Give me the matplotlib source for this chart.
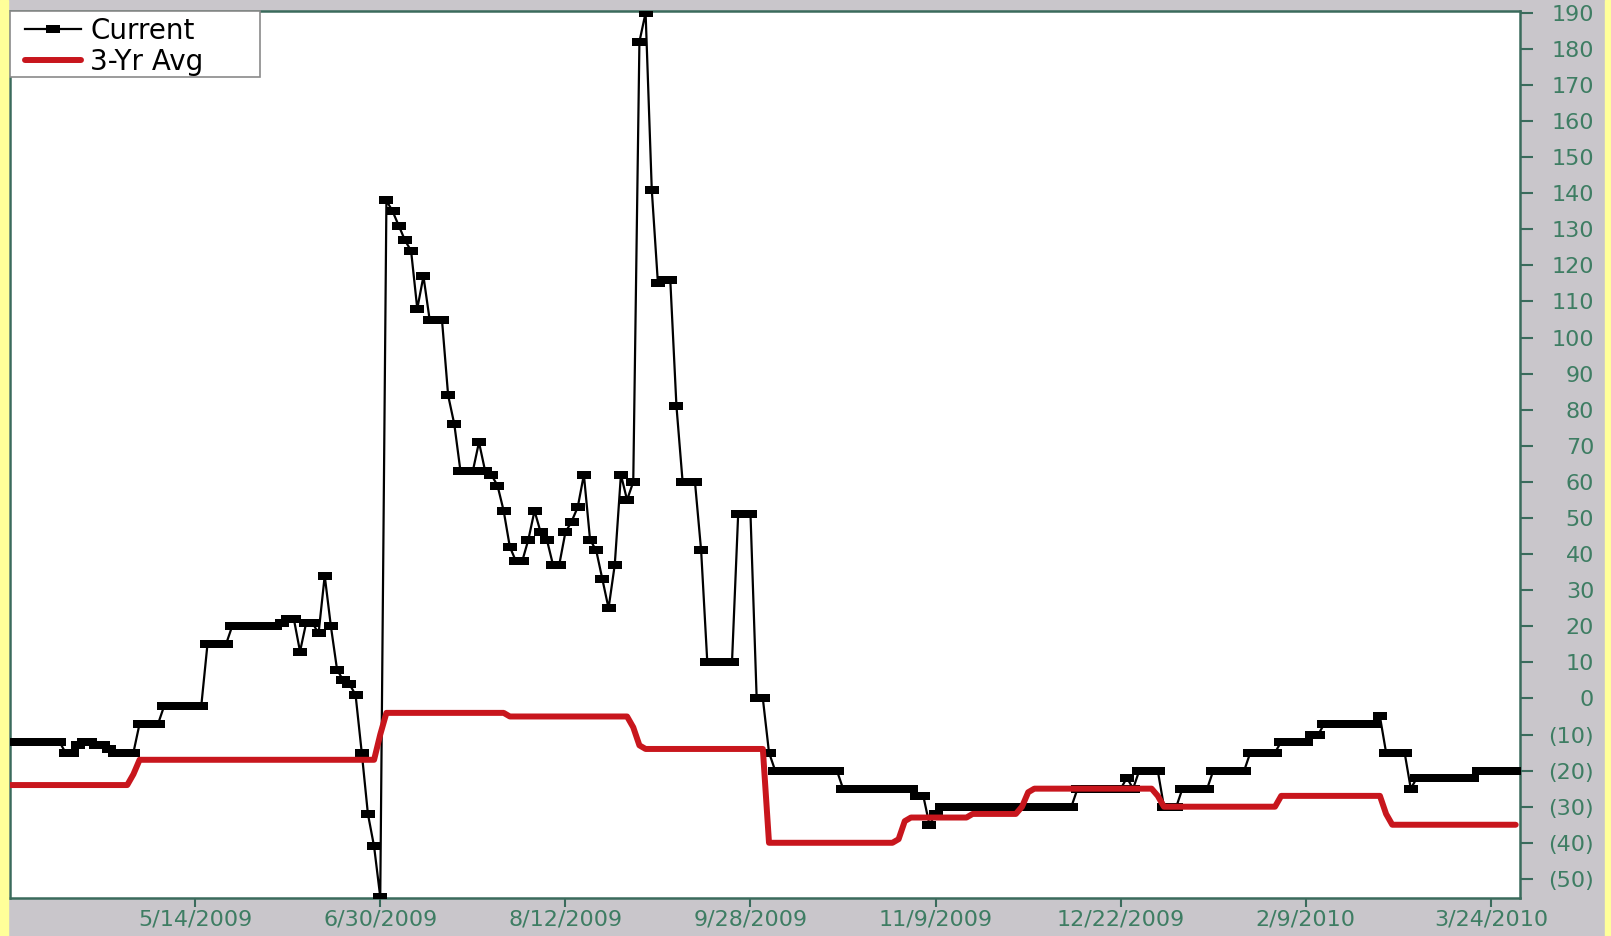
import matplotlib; matplotlib.use("Agg")
import matplotlib.pyplot as plt
from matplotlib.patches import Rectangle
import numpy as np

plt.rcParams.update({"font.family": "DejaVu Sans"})

# daily readings (one value per trading day)
current = [
    -12, -12, -12, -12, -12, -12, -12, -12, -12, -15,
    -15, -13, -12, -12, -13, -13, -14, -15, -15, -15,
    -15, -7, -7, -7, -7, -2, -2, -2, -2, -2,
    -2, -2, 15, 15, 15, 15, 20, 20, 20, 20,
    20, 20, 20, 20, 21, 22, 22, 13, 21, 21,
    18, 34, 20, 8, 5, 4, 1, -15, -32, -41,
    -55, 138, 135, 131, 127, 124, 108, 117, 105, 105,
    105, 84, 76, 63, 63, 63, 71, 63, 62, 59,
    52, 42, 38, 38, 44, 52, 46, 44, 37, 37,
    46, 49, 53, 62, 44, 41, 33, 25, 37, 62,
    55, 60, 182, 190, 141, 115, 116, 116, 81, 60,
    60, 60, 41, 10, 10, 10, 10, 10, 51, 51,
    51, 0, 0, -15, -20, -20, -20, -20, -20, -20,
    -20, -20, -20, -20, -20, -25, -25, -25, -25, -25,
    -25, -25, -25, -25, -25, -25, -25, -27, -27, -35,
    -32, -30, -30, -30, -30, -30, -30, -30, -30, -30,
    -30, -30, -30, -30, -30, -30, -30, -30, -30, -30,
    -30, -30, -30, -25, -25, -25, -25, -25, -25, -25,
    -25, -22, -25, -20, -20, -20, -20, -30, -30, -30,
    -25, -25, -25, -25, -25, -20, -20, -20, -20, -20,
    -20, -15, -15, -15, -15, -15, -12, -12, -12, -12,
    -12, -10, -10, -7, -7, -7, -7, -7, -7, -7,
    -7, -7, -5, -15, -15, -15, -15, -25, -22, -22,
    -22, -22, -22, -22, -22, -22, -22, -22, -20, -20,
    -20, -20, -20, -20, -20,
]
avg3 = [
    -24, -24, -24, -24, -24, -24, -24, -24, -24, -24,
    -24, -24, -24, -24, -24, -24, -24, -24, -24, -24,
    -21, -17, -17, -17, -17, -17, -17, -17, -17, -17,
    -17, -17, -17, -17, -17, -17, -17, -17, -17, -17,
    -17, -17, -17, -17, -17, -17, -17, -17, -17, -17,
    -17, -17, -17, -17, -17, -17, -17, -17, -17, -17,
    -10, -4, -4, -4, -4, -4, -4, -4, -4, -4,
    -4, -4, -4, -4, -4, -4, -4, -4, -4, -4,
    -4, -5, -5, -5, -5, -5, -5, -5, -5, -5,
    -5, -5, -5, -5, -5, -5, -5, -5, -5, -5,
    -5, -8, -13, -14, -14, -14, -14, -14, -14, -14,
    -14, -14, -14, -14, -14, -14, -14, -14, -14, -14,
    -14, -14, -14, -40, -40, -40, -40, -40, -40, -40,
    -40, -40, -40, -40, -40, -40, -40, -40, -40, -40,
    -40, -40, -40, -40, -39, -34, -33, -33, -33, -33,
    -33, -33, -33, -33, -33, -33, -32, -32, -32, -32,
    -32, -32, -32, -32, -30, -26, -25, -25, -25, -25,
    -25, -25, -25, -25, -25, -25, -25, -25, -25, -25,
    -25, -25, -25, -25, -25, -25, -27, -30, -30, -30,
    -30, -30, -30, -30, -30, -30, -30, -30, -30, -30,
    -30, -30, -30, -30, -30, -30, -27, -27, -27, -27,
    -27, -27, -27, -27, -27, -27, -27, -27, -27, -27,
    -27, -27, -27, -32, -35, -35, -35, -35, -35, -35,
    -35, -35, -35, -35, -35, -35, -35, -35, -35, -35,
    -35, -35, -35, -35, -35,
]
tick_pos = [30, 60, 90, 120, 150, 180, 210, 240]
tick_lab = ["5/14/2009", "6/30/2009", "8/12/2009", "9/28/2009",
            "11/9/2009", "12/22/2009", "2/9/2010", "3/24/2010"]
yticks = list(range(-50, 191, 10))

W, H = 1611, 936
bg = "#C9C6CB"; yel = "#FFFF99"; spine = "#3A6B5C"; txt = "#3E7D63"
fig = plt.figure(figsize=(W / 100, H / 100), dpi=100, facecolor=bg)
fig.patches.append(Rectangle((0, 0), 8 / W, 1, transform=fig.transFigure, color=yel, zorder=0))
fig.patches.append(Rectangle((1605 / W, 0), 6 / W, 1, transform=fig.transFigure, color=yel, zorder=0))

ax = fig.add_axes([10 / W, 38 / H, 1510 / W, 887 / H])
ax.set_facecolor("white")
x = np.arange(len(current))
rect = [(-1.6, -1), (1.6, -1), (1.6, 1), (-1.6, 1), (-1.6, -1)]
ax.plot(x, current, color="black", lw=1.6, marker=rect, ms=9.8, mfc="black",
        mec="black", mew=0, label="Current", zorder=3)
ax.plot(x, avg3, color="#C8161D", lw=4.3, label="3-Yr Avg", zorder=4,
        solid_joinstyle="round", solid_capstyle="round")

ax.set_xlim(0, 244.7)
ax.set_ylim(-55.3, 190.5)
ax.set_xticks(tick_pos)
ax.set_xticklabels(tick_lab)
ax.yaxis.tick_right()
ax.set_yticks(yticks)
ax.set_yticklabels([f"({-v})" if v < 0 else str(v) for v in yticks])
for lbl in ax.get_yticklabels():
    lbl.set_horizontalalignment("right")
ax.tick_params(axis="y", direction="out", length=9.4, width=1.5, color=spine,
               labelcolor=txt, labelsize=16, pad=44)
ax.tick_params(axis="x", direction="out", length=6.5, width=1.5, color=spine,
               labelcolor=txt, labelsize=16, pad=2)
for s in ax.spines.values():
    s.set_color(spine); s.set_linewidth(1.8)

# legend box drawn by hand so it matches the wide original frame
ax.add_patch(Rectangle((0, 1 - 66 / 887), 250 / 1510, 66 / 887, transform=ax.transAxes,
                       facecolor="white", edgecolor="#8A8A8A", lw=1.2, zorder=5, clip_on=False))
leg = ax.legend(loc="upper left", bbox_to_anchor=(15 / 1510, 1 - 6 / 887), borderaxespad=0,
                fontsize=20, handlelength=2.0, handletextpad=0.35, numpoints=1,
                labelspacing=0.1, borderpad=0, frameon=False)
leg.set_zorder(6)

fig.savefig("out.png", dpi=100, facecolor=bg)
